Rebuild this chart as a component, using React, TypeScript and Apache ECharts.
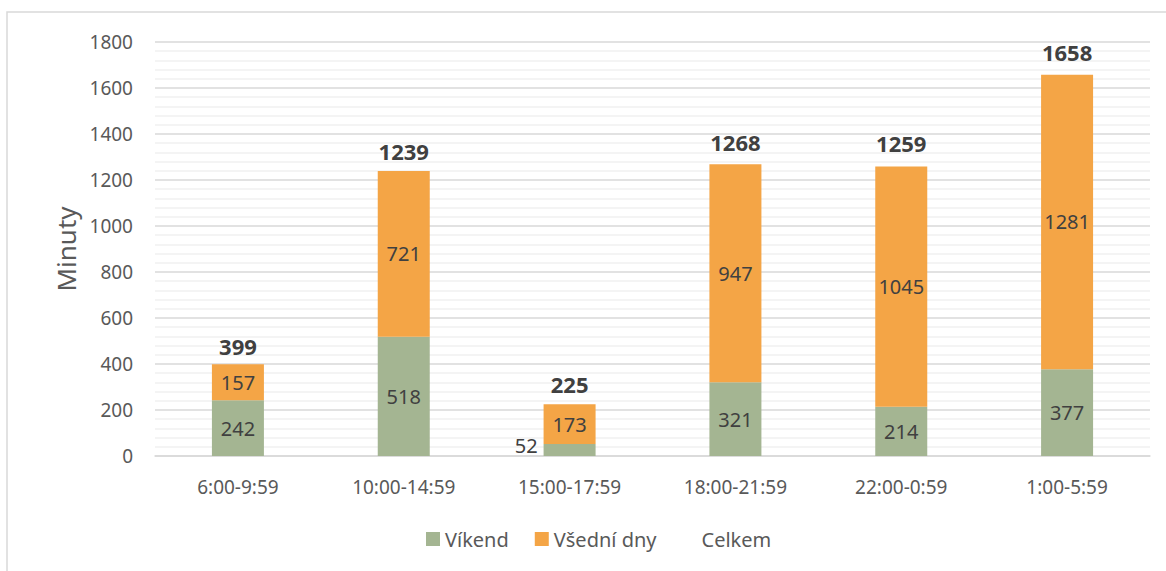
import React, { useEffect, useRef } from "react";
import * as echarts from "echarts";

const categories = ["6:00-9:59", "10:00-14:59", "15:00-17:59", "18:00-21:59", "22:00-0:59", "1:00-5:59"];
const vikend = [242, 518, 52, 321, 214, 377];
const vsedniDny = [157, 721, 173, 947, 1045, 1281];
const celkem = [399, 1239, 225, 1268, 1259, 1658];

const FONT = "'Noto Sans', 'Open Sans', sans-serif";

export default function App() {
  const ref = useRef<HTMLDivElement>(null);
  useEffect(() => {
    if (!ref.current) return;
    const chart = echarts.init(ref.current, null, { renderer: "svg" });
    const totalLabelDistance = [7, 9, 9, 11, 12, 12];
    chart.setOption({
      animation: false,
      backgroundColor: "#ffffff",
      textStyle: { fontFamily: FONT },
      graphic: [
        {
          type: "rect",
          shape: { x: 7, y: 12, width: 1200, height: 700 },
          style: { fill: "none", stroke: "#D9D9D9", lineWidth: 1.5 },
          silent: true,
        },
      ],
      grid: { left: 155, right: 16, top: 42, bottom: 115 },
      legend: {
        bottom: 17,
        left: 421,
        itemWidth: 14,
        itemHeight: 14,
        itemGap: 26,
        textStyle: { fontSize: 20, color: "#595959", fontFamily: FONT },
        data: [
          { name: "Víkend", icon: "rect" },
          { name: "Všední dny", icon: "rect" },
          { name: "Celkem", icon: "none" },
        ],
        selectedMode: false,
      },
      xAxis: {
        type: "category",
        data: categories,
        axisLine: { lineStyle: { color: "#D9D9D9", width: 1.5 } },
        axisTick: { show: false },
        axisLabel: { fontSize: 19, color: "#595959", margin: 21, fontFamily: FONT },
      },
      yAxis: {
        type: "value",
        min: 0,
        max: 1800,
        interval: 200,
        name: "Minuty",
        nameLocation: "middle",
        nameGap: 76,
        nameTextStyle: { fontSize: 26, color: "#595959", fontFamily: FONT },
        axisLine: { show: false },
        axisTick: { show: false },
        axisLabel: {
          fontSize: 19,
          color: "#595959",
          margin: 22,
          fontFamily: FONT,
          formatter: (v: number) => String(v),
        },
        splitLine: { lineStyle: { color: "#D9D9D9", width: 1.5 } },
        minorTick: { show: false, splitNumber: 5 },
        minorSplitLine: { show: true, lineStyle: { color: "#F0F0F0", width: 1.5 } },
      },
      series: [
        {
          name: "Víkend",
          type: "bar",
          stack: "a",
          barWidth: 52,
          itemStyle: { color: "#A4B592" },
          label: {
            show: true,
            position: "inside",
            fontSize: 20,
            color: "#404040",
            fontFamily: FONT,
          },
          data: vikend.map((v, i) =>
            i === 2 ? { value: v, label: { position: "left", distance: 6, offset: [0, -5] } } : v
          ),
        },
        {
          name: "Všední dny",
          type: "bar",
          stack: "a",
          barWidth: 52,
          itemStyle: { color: "#F4A546" },
          label: {
            show: true,
            position: "inside",
            fontSize: 20,
            color: "#404040",
            fontFamily: FONT,
          },
          data: vsedniDny,
        },
        {
          name: "Celkem",
          type: "bar",
          barWidth: 52,
          barGap: "-100%",
          z: 1,
          itemStyle: { color: "rgba(0,0,0,0)" },
          label: {
            show: true,
            position: "top",
            fontSize: 22,
            fontWeight: "bold",
            color: "#404040",
            fontFamily: FONT,
          },
          data: celkem.map((v, i) => ({ value: v, label: { distance: totalLabelDistance[i] } })),
        },
      ],
    });
    return () => chart.dispose();
  }, []);
  return (
    <div
      ref={ref}
      style={{ position: "absolute", left: 0, top: 0, width: 1166, height: 571, background: "#fff" }}
    />
  );
}
